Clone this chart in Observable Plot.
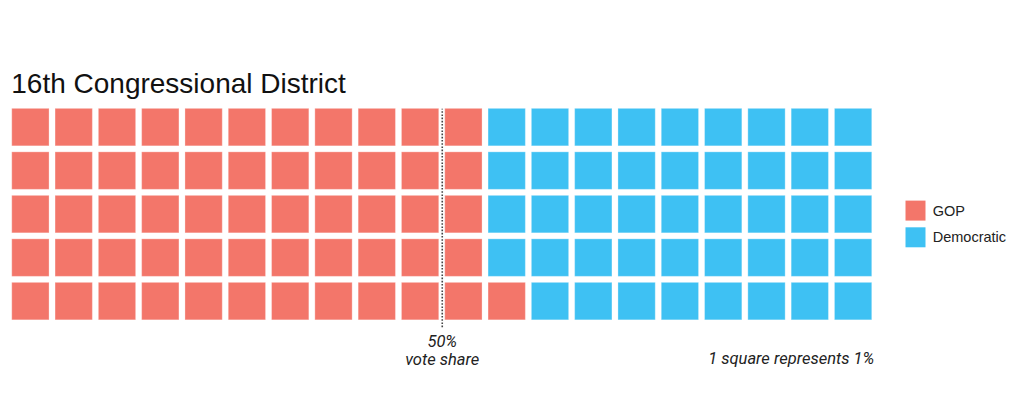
<!DOCTYPE html>
<html>
<head>
<meta charset="utf-8">
<script src="https://cdn.jsdelivr.net/npm/d3@7"></script>
<script src="https://cdn.jsdelivr.net/npm/@observablehq/plot@0.6"></script>
<style>
  html, body { margin: 0; padding: 0; background: #fff; }
  #chart svg { display: block; }
</style>
</head>
<body>
<div id="chart"></div>
<script>
// ---- data ----
const title = "16th Congressional District";
const parties = ["GOP", "Democratic"];
const squares = [56, 44];          // 1 square = 1%
const partyColors = ["#F3766A", "#3EC1F3"];
const nCols = 20;
const nRows = 5;
const thresholdCol = 10;           // 50% line
const thresholdLabel = "50%\nvote share";
const noteLabel = "1 square represents 1%";

// build waffle cells: fill column by column, bottom to top
const cells = [];
let k = 0;
parties.forEach((p, pi) => {
  for (let i = 0; i < squares[pi]; i++, k++) {
    cells.push({party: p, col: Math.floor(k / nRows), row: k % nRows});
  }
});

const W = 1024, H = 393;
const chart = Plot.plot({
  width: W,
  height: H,
  marginLeft: 8.75,
  marginRight: 149.25,
  marginTop: 105.35,
  marginBottom: 70.15,
  style: {fontFamily: "Roboto, sans-serif", background: "#fff"},
  x: {domain: [0, nCols], axis: null},
  y: {domain: [0, nRows], axis: null},
  color: {domain: parties, range: partyColors},
  marks: [
    Plot.rect(cells, {
      x1: "col", x2: d => d.col + 1,
      y1: "row", y2: d => d.row + 1,
      fill: "party",
      inset: 3,
      stroke: "white", strokeOpacity: 0.3, strokeWidth: 1
    }),
    Plot.ruleX([thresholdCol], {
      y1: -0.1, y2: nRows - 0.08,
      stroke: "#444", strokeWidth: 1.6, strokeDasharray: "1.6,1.6"
    }),
    Plot.text([thresholdLabel], {
      x: thresholdCol, frameAnchor: "bottom", dy: 26.5,
      lineAnchor: "middle", lineHeight: 1.1,
      fontSize: 16.5, fontStyle: "italic", fill: "#222"
    }),
    Plot.text([noteLabel], {
      frameAnchor: "bottom-right", textAnchor: "end", lineAnchor: "middle",
      dy: 35.5, dx: -1,
      fontSize: 16.5, fontStyle: "italic", fill: "#222"
    }),
    Plot.text([title], {
      frameAnchor: "top-left", textAnchor: "start", lineAnchor: "bottom",
      dx: 2, dy: -13,
      fontSize: 28, fontFamily: "'Liberation Sans', Arial, sans-serif", fill: "#111"
    }),
    // legend
    ...parties.map((p, i) => Plot.dot([p], {
      frameAnchor: "right", dx: 40.25, dy: -4 + i * 26.7,
      symbol: "square", r: 11.28, fill: d => d
    })),
    ...parties.map((p, i) => Plot.text([p], {
      frameAnchor: "right", dx: 57.5, dy: -3.5 + i * 26.7,
      textAnchor: "start", lineAnchor: "middle",
      fontSize: 14.5, fontFamily: "'Liberation Sans', Arial, sans-serif", fill: "#222"
    }))
  ]
});
document.getElementById("chart").append(chart);
</script>
</body>
</html>
